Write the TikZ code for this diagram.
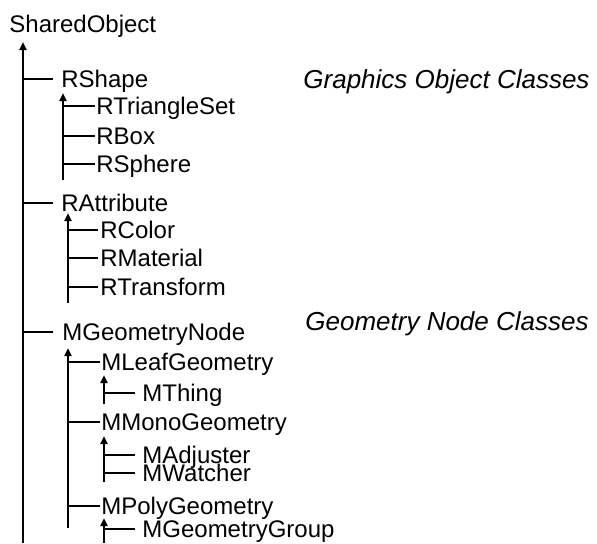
\documentclass[tikz,border=0pt]{standalone}
\usepackage{fontspec}
\setmainfont{Liberation Sans}
\usetikzlibrary{arrows.meta}
\begin{document}
\begin{tikzpicture}[x=0.5pt,y=-0.5pt,
  cls/.style={font=\fontsize{12}{14}\selectfont, inner sep=0pt,
              text height=8.6pt, text depth=0pt, anchor=west},
  grp/.style={font=\fontsize{13}{15}\selectfont\itshape, inner sep=0pt,
              text height=9.3pt, text depth=0pt, anchor=west},
  link/.style={line width=1pt},
  trunk/.style={line width=1pt, -{Triangle[width=3.5pt,length=4pt]}}]
\useasboundingbox (0,0) rectangle (597,543);

% class names
\node[cls] (so)   at (9,24)    {SharedObject};
\node[cls] (rsh)  at (61,79)   {RShape};
\node[cls] (rts)  at (96,106)  {RTriangleSet};
\node[cls] (rbox) at (96,136)  {RBox};
\node[cls] (rsph) at (96,164)  {RSphere};
\node[cls] (ratt) at (61,203)  {RAttribute};
\node[cls] (rcol) at (100,230) {RColor};
\node[cls] (rmat) at (100,258) {RMaterial};
\node[cls] (rtrf) at (100,287) {RTransform};
\node[cls] (mgn)  at (62,332)  {MGeometryNode};
\node[cls] (mleaf) at (101,362) {MLeafGeometry};
\node[cls] (mthing) at (142,393) {MThing};
\node[cls] (mmono) at (101,422) {MMonoGeometry};
\node[cls] (madj) at (142,455) {MAdjuster};
\node[cls] (mwat) at (142,473) {MWatcher};
\node[cls] (mpoly) at (101,506) {MPolyGeometry};
\node[cls] (mgg)  at (142,529) {MGeometryGroup};

% group captions
\node[grp] (gcap) at (303,79)  {Graphics Object Classes};
\node[grp] (ncap) at (305,321) {Geometry Node Classes};

% inheritance trunks (arrow points to the base class)
\coordinate (At) at (23,42);   \coordinate (Ab) at (23,543);
\coordinate (Bt) at (63,93);   \coordinate (Bb) at (63,180);
\coordinate (Ct) at (68,213);  \coordinate (Cb) at (68,303);
\coordinate (Dt) at (68,348);  \coordinate (Db) at (68,528);
\coordinate (Et) at (104,375); \coordinate (Eb) at (104,404);
\coordinate (Ft) at (104,436); \coordinate (Fb) at (104,482);
\coordinate (Gt) at (104,518); \coordinate (Gb) at (104,543);

\draw[trunk] (Ab) -- (At);
\draw[trunk] (Bb) -- (Bt);
\draw[trunk] (Cb) -- (Ct);
\draw[trunk] (Db) -- (Dt);
\draw[trunk] (Eb) -- (Et);
\draw[trunk] (Fb) -- (Ft);
\draw[trunk] (Gb) -- (Gt);

% branches from trunks to derived classes
\draw[link] (At |- rsh.west)  -- ([xshift=-4pt]rsh.west);
\draw[link] (At |- ratt.west) -- ([xshift=-4pt]ratt.west);
\draw[link] (At |- mgn.west)  -- ([xshift=-4.5pt]mgn.west);

\draw[link] (Bt |- rts.west)  -- ([xshift=-0.5pt]rts.west);
\draw[link] (Bt |- rbox.west) -- ([xshift=-0.5pt]rbox.west);
\draw[link] (Bt |- rsph.west) -- ([xshift=-0.5pt]rsph.west);

\draw[link] (Ct |- rcol.west) -- ([xshift=-1pt]rcol.west);
\draw[link] (Ct |- rmat.west) -- ([xshift=-1pt]rmat.west);
\draw[link] (Ct |- rtrf.west) -- ([xshift=-1pt]rtrf.west);

\draw[link] (Dt |- mleaf.west) -- ([xshift=-0.5pt]mleaf.west);
\draw[link] (Dt |- mmono.west) -- ([xshift=-0.5pt]mmono.west);
\draw[link] (Dt |- mpoly.west) -- ([xshift=-0.5pt]mpoly.west);

\draw[link] (Et |- mthing.west) -- ([xshift=-3.5pt]mthing.west);
\draw[link] (Ft |- madj.west)   -- ([xshift=-3.5pt]madj.west);
\draw[link] (Ft |- mwat.west)   -- ([xshift=-3.5pt]mwat.west);
\draw[link] (Gt |- mgg.west)    -- ([xshift=-3.5pt]mgg.west);
\end{tikzpicture}
\end{document}
